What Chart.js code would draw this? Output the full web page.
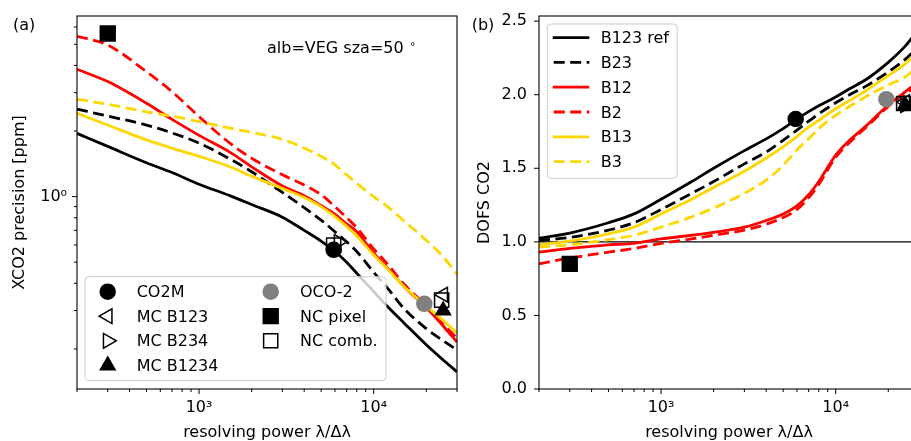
<!DOCTYPE html>
<html>
<head>
<meta charset="utf-8">
<script src="https://cdn.jsdelivr.net/npm/chart.js@4"></script>
<style>
html, body { margin: 0; padding: 0; background: #fff; overflow: hidden; }
#wrap { position: relative; width: 911px; height: 441px; overflow: hidden; }
#left { position: absolute; left: 0; top: 0; }
#right { position: absolute; left: 460px; top: 0; }
</style>
</head>
<body>
<div id="wrap">
  <canvas id="left" width="460" height="441"></canvas>
  <canvas id="right" width="462" height="441"></canvas>
</div>
<script>
const FONT = "'DejaVu Sans', sans-serif";
const BLACK = '#000000';
const RED = '#ff0000';
const GOLD = '#ffd700';
const GREY = '#808080';
const DASH = [11, 5.5];

// resolving power grid shared by all curves
const resPower = [200, 300, 500, 700, 1000, 1500, 2000, 3000, 4000, 5000, 6000, 7000, 8000, 10000, 12000, 15000, 20000, 25000, 30000];

// (a) XCO2 precision [ppm]
const precB123ref = [1.95, 1.70, 1.43, 1.29, 1.14, 1.01, 0.92, 0.805, 0.70, 0.625, 0.56, 0.50, 0.445, 0.367, 0.313, 0.262, 0.209, 0.178, 0.157];
const precB23     = [2.52, 2.34, 2.13, 1.96, 1.76, 1.49, 1.30, 1.045, 0.89, 0.78, 0.69, 0.62, 0.56, 0.45, 0.38, 0.305, 0.248, 0.218, 0.198];
const precB12     = [3.84, 3.37, 2.68, 2.26, 1.91, 1.60, 1.37, 1.12, 1.01, 0.91, 0.83, 0.75, 0.69, 0.55, 0.47, 0.385, 0.31, 0.255, 0.215];
const precB2      = [5.44, 4.96, 3.74, 3.03, 2.33, 1.76, 1.50, 1.26, 1.13, 1.02, 0.90, 0.80, 0.72, 0.575, 0.49, 0.395, 0.315, 0.26, 0.224];
const precB13     = [2.41, 2.13, 1.82, 1.67, 1.53, 1.37, 1.24, 1.09, 0.99, 0.90, 0.81, 0.73, 0.66, 0.54, 0.465, 0.385, 0.315, 0.27, 0.237];
const precB3      = [2.80, 2.65, 2.45, 2.34, 2.21, 2.06, 1.97, 1.83, 1.67, 1.53, 1.40, 1.26, 1.15, 1.00, 0.90, 0.77, 0.63, 0.53, 0.44];

// (b) DOFS CO2
const dofsB123ref = [1.025, 1.06, 1.13, 1.19, 1.29, 1.41, 1.50, 1.62, 1.70, 1.77, 1.835, 1.885, 1.925, 1.985, 2.04, 2.105, 2.22, 2.33, 2.45];
const dofsB23     = [1.01, 1.03, 1.08, 1.13, 1.22, 1.33, 1.41, 1.53, 1.61, 1.69, 1.76, 1.82, 1.87, 1.945, 2.0, 2.06, 2.155, 2.24, 2.33];
const dofsB12     = [0.93, 0.955, 0.98, 0.99, 1.02, 1.045, 1.065, 1.10, 1.145, 1.19, 1.245, 1.32, 1.41, 1.59, 1.69, 1.79, 1.93, 2.02, 2.09];
const dofsB2      = [0.85, 0.89, 0.93, 0.955, 0.99, 1.02, 1.045, 1.08, 1.12, 1.165, 1.22, 1.30, 1.39, 1.575, 1.675, 1.78, 1.92, 2.005, 2.07];
const dofsB13     = [0.98, 1.005, 1.055, 1.10, 1.19, 1.29, 1.37, 1.48, 1.57, 1.645, 1.715, 1.78, 1.825, 1.905, 1.96, 2.03, 2.13, 2.21, 2.30];
const dofsB3      = [0.965, 0.98, 1.015, 1.045, 1.10, 1.17, 1.23, 1.33, 1.42, 1.52, 1.625, 1.70, 1.77, 1.86, 1.92, 1.99, 2.066, 2.12, 2.20];
const refLineX = [200, 30000];
const refLineY = [1, 1];

// instrument markers
const co2mX = [5900],  co2mPrec = [0.57],  co2mDofs = [1.835];
const oco2X = [19500], oco2Prec = [0.322], oco2Dofs = [1.97];
const ncPixelX = [300], ncPixelPrec = [5.6], ncPixelDofs = [0.85];
const ncCombPrecX = [5900, 24500], ncCombPrec = [0.60, 0.335];
const ncCombDofsX = [24500], ncCombDofs = [1.94];
const mcB123X = [25000], mcB123Prec = [0.355], mcB123Dofs = [1.95];
const mcB234PrecX = [6300], mcB234Prec = [0.62];
const mcB234DofsX = [25000], mcB234Dofs = [1.93];
const mcB1234X = [25000], mcB1234Prec = [0.30], mcB1234Dofs = [1.93];

// tick positions
const xMajor = [1000, 10000];
const xMinor = [200, 300, 400, 500, 600, 700, 800, 900, 2000, 3000, 4000, 5000, 6000, 7000, 8000, 9000, 20000, 30000];
const precMajor = [1];
const precMinor = [0.2, 0.3, 0.4, 0.5, 0.6, 0.7, 0.8, 0.9, 2, 3, 4, 5, 6];
const dofsTicks = [0, 0.5, 1, 1.5, 2, 2.5];

function pts(xs, ys) {
    return xs.map(function(x, i) { return { x: x, y: ys[i] }; });
}

function curve(label, ys, color, dashed) {
    return {
        label: label,
        data: pts(resPower, ys),
        borderColor: color,
        borderWidth: 2.8,
        borderDash: dashed ? DASH : [],
        pointRadius: 0,
        fill: false,
        cubicInterpolationMode: 'monotone',
        clip: 0
    };
}

function markers(label, xs, ys, style, radius, rotation, filled, color) {
    return {
        label: label,
        data: pts(xs, ys),
        showLine: false,
        pointStyle: style,
        pointRadius: radius,
        pointRotation: rotation,
        pointBackgroundColor: filled ? color : 'rgba(0,0,0,0)',
        pointBorderColor: color,
        pointBorderWidth: 1.5
    };
}

function stack(list) {
    list.forEach(function(d, i) { d.order = -i; });
    return list;
}

function drawMarker(ctx, ds, x, y) {
    var r = ds.pointRadius;
    var a = (ds.pointRotation || 0) * Math.PI / 180;
    ctx.save();
    ctx.beginPath();
    if (ds.pointStyle === 'circle') {
        ctx.arc(x, y, r, 0, 2 * Math.PI);
    } else if (ds.pointStyle === 'rect') {
        var h = r * Math.SQRT1_2;
        ctx.rect(x - h, y - h, 2 * h, 2 * h);
    } else {
        for (var k = 0; k < 3; k++) {
            var px = x + Math.sin(a) * r, py = y - Math.cos(a) * r;
            if (k) ctx.lineTo(px, py); else ctx.moveTo(px, py);
            a += 2 * Math.PI / 3;
        }
        ctx.closePath();
    }
    ctx.fillStyle = ds.pointBackgroundColor;
    ctx.fill();
    ctx.lineWidth = ds.pointBorderWidth;
    ctx.strokeStyle = ds.pointBorderColor;
    ctx.stroke();
    ctx.restore();
}

function legendBox(ctx, x0, y0, x1, y1) {
    var r = 4;
    ctx.save();
    ctx.beginPath();
    ctx.moveTo(x0 + r, y0);
    ctx.lineTo(x1 - r, y0);
    ctx.quadraticCurveTo(x1, y0, x1, y0 + r);
    ctx.lineTo(x1, y1 - r);
    ctx.quadraticCurveTo(x1, y1, x1 - r, y1);
    ctx.lineTo(x0 + r, y1);
    ctx.quadraticCurveTo(x0, y1, x0, y1 - r);
    ctx.lineTo(x0, y0 + r);
    ctx.quadraticCurveTo(x0, y0, x0 + r, y0);
    ctx.closePath();
    ctx.fillStyle = 'rgba(255,255,255,0.8)';
    ctx.fill();
    ctx.lineWidth = 1;
    ctx.strokeStyle = '#cccccc';
    ctx.stroke();
    ctx.restore();
}

// frame + major/minor tick marks
function frameTicks(xMaj, xMin, yMaj, yMin) {
    return {
        id: 'frameTicks',
        afterDatasetsDraw: function(chart) {
            var ctx = chart.ctx, a = chart.chartArea;
            var sx = chart.scales.x, sy = chart.scales.y;
            ctx.save();
            ctx.strokeStyle = BLACK;
            ctx.lineWidth = 1.1;
            ctx.strokeRect(a.left, a.top, a.right - a.left, a.bottom - a.top);
            function tx(vals, len) {
                vals.forEach(function(v) {
                    var p = sx.getPixelForValue(v);
                    ctx.beginPath(); ctx.moveTo(p, a.bottom); ctx.lineTo(p, a.bottom + len); ctx.stroke();
                });
            }
            function ty(vals, len) {
                vals.forEach(function(v) {
                    var p = sy.getPixelForValue(v);
                    ctx.beginPath(); ctx.moveTo(a.left, p); ctx.lineTo(a.left - len, p); ctx.stroke();
                });
            }
            ctx.lineWidth = 1;
            tx(xMaj, 5); tx(xMin, 3);
            ty(yMaj, 5); ty(yMin, 3);
            ctx.restore();
        }
    };
}

function noPad(s) {
    s.paddingLeft = 0; s.paddingRight = 0; s.paddingTop = 0; s.paddingBottom = 0;
}

function xAxis() {
    return {
        type: 'logarithmic',
        min: 200,
        max: 30000,
        afterBuildTicks: function(s) {
            s.ticks = xMajor.concat(xMinor).sort(function(a, b) { return a - b; })
                .map(function(v) { return { value: v }; });
        },
        afterFit: function(s) { s.height = 52; noPad(s); },
        grid: { drawOnChartArea: false, drawTicks: true, tickLength: 5, tickColor: 'rgba(0,0,0,0)' },
        border: { display: false },
        ticks: {
            autoSkip: false, maxRotation: 0, minRotation: 0, padding: 4,
            color: BLACK, font: { family: FONT, size: 16 },
            callback: function(v) { return v === 1000 ? '10³' : (v === 10000 ? '10⁴' : ''); }
        },
        title: {
            display: true, text: 'resolving power λ/Δλ', color: BLACK,
            font: { family: FONT, size: 16 }, padding: { top: 0, bottom: -1 }
        }
    };
}

// ---------- (a) precision ----------
var leftSets = stack([
    curve('B123 ref', precB123ref, BLACK, false),
    curve('B23', precB23, BLACK, true),
    curve('B12', precB12, RED, false),
    curve('B2', precB2, RED, true),
    curve('B13', precB13, GOLD, false),
    curve('B3', precB3, GOLD, true),
    markers('CO2M', co2mX, co2mPrec, 'circle', 7.5, 0, true, BLACK),
    markers('MC B123', mcB123X, mcB123Prec, 'triangle', 8.5, -90, false, BLACK),
    markers('MC B234', mcB234PrecX, mcB234Prec, 'triangle', 8.5, 90, false, BLACK),
    markers('MC B1234', mcB1234X, mcB1234Prec, 'triangle', 8.5, 0, true, BLACK),
    markers('OCO-2', oco2X, oco2Prec, 'circle', 7.5, 0, true, GREY),
    markers('NC pixel', ncPixelX, ncPixelPrec, 'rect', 10.5, 0, true, BLACK),
    markers('NC comb.', ncCombPrecX, ncCombPrec, 'rect', 10, 0, false, BLACK)
]);

var leftText = {
    id: 'leftText',
    afterDraw: function(chart) {
        var ctx = chart.ctx;
        ctx.save();
        ctx.fillStyle = BLACK;
        ctx.textBaseline = 'alphabetic';
        ctx.font = '16px ' + FONT;
        ctx.fillText('(a)', 13, 29.5);
        ctx.fillText('alb=VEG sza=50', 267, 53.3);
        ctx.font = '11px ' + FONT;
        ctx.fillText('°', 410, 49.5);
        // legend
        legendBox(ctx, 85, 276.7, 386, 380.7);
        var cols = [[6, 7, 8, 9], [10, 11, 12]];
        var colX = [107.7, 270.7], textX = [136.7, 300];
        var rowY = [291.7, 316.2, 340.8, 365.4];
        ctx.font = '16px ' + FONT;
        cols.forEach(function(col, c) {
            col.forEach(function(idx, r) {
                var ds = chart.data.datasets[idx];
                drawMarker(ctx, ds, colX[c], rowY[r]);
                ctx.fillStyle = BLACK;
                ctx.fillText(ds.label, textX[c], rowY[r] + 5.6);
            });
        });
        ctx.restore();
    }
};

new Chart(document.getElementById('left'), {
    type: 'line',
    data: { datasets: leftSets },
    options: {
        responsive: false,
        animation: false,
        devicePixelRatio: 1,
        events: [],
        layout: { autoPadding: false, padding: { top: 16, right: 3, left: 0, bottom: 0 } },
        plugins: { legend: { display: false }, tooltip: { enabled: false } },
        scales: {
            x: xAxis(),
            y: {
                type: 'logarithmic',
                min: 0.131,
                max: 6.74,
                afterBuildTicks: function(s) {
                    s.ticks = precMinor.concat(precMajor).sort(function(a, b) { return a - b; })
                        .map(function(v) { return { value: v }; });
                },
                afterFit: function(s) { s.width = 77; noPad(s); },
                grid: { drawOnChartArea: false, drawTicks: true, tickLength: 5, tickColor: 'rgba(0,0,0,0)' },
                border: { display: false },
                ticks: {
                    autoSkip: false, padding: 5, color: BLACK, font: { family: FONT, size: 16 },
                    callback: function(v) { return v === 1 ? '10⁰' : ''; }
                },
                title: {
                    display: true, text: 'XCO2 precision [ppm]', color: BLACK,
                    font: { family: FONT, size: 16 }, padding: { top: 10.4, bottom: 0 }
                }
            }
        }
    },
    plugins: [frameTicks(xMajor, xMinor, precMajor, precMinor), leftText]
});

// ---------- (b) DOFS ----------
var refLine = {
    label: 'ref', data: pts(refLineX, refLineY), borderColor: BLACK, borderWidth: 1.2,
    pointRadius: 0, fill: false, clip: 0
};
var rightSets = stack([
    refLine,
    curve('B123 ref', dofsB123ref, BLACK, false),
    curve('B23', dofsB23, BLACK, true),
    curve('B12', dofsB12, RED, false),
    curve('B2', dofsB2, RED, true),
    curve('B13', dofsB13, GOLD, false),
    curve('B3', dofsB3, GOLD, true),
    markers('CO2M', co2mX, co2mDofs, 'circle', 7.5, 0, true, BLACK),
    markers('MC B123', mcB123X, mcB123Dofs, 'triangle', 8.5, -90, false, BLACK),
    markers('MC B234', mcB234DofsX, mcB234Dofs, 'triangle', 8.5, 90, false, BLACK),
    markers('MC B1234', mcB1234X, mcB1234Dofs, 'triangle', 8.5, 0, true, BLACK),
    markers('OCO-2', oco2X, oco2Dofs, 'circle', 7.5, 0, true, GREY),
    markers('NC pixel', ncPixelX, ncPixelDofs, 'rect', 10.5, 0, true, BLACK),
    markers('NC comb.', ncCombDofsX, ncCombDofs, 'rect', 10, 0, false, BLACK)
]);

var rightText = {
    id: 'rightText',
    afterDraw: function(chart) {
        var ctx = chart.ctx;
        ctx.save();
        ctx.textBaseline = 'alphabetic';
        ctx.font = '16px ' + FONT;
        ctx.fillStyle = BLACK;
        ctx.fillText('(b)', 11.7, 29.5);
        legendBox(ctx, 87.3, 24, 217.3, 178.3);
        var rowY = [37.7, 62.4, 87.2, 112, 136.8, 161.6];
        for (var i = 0; i < 6; i++) {
            var ds = chart.data.datasets[i + 1];
            ctx.save();
            ctx.beginPath();
            ctx.strokeStyle = ds.borderColor;
            ctx.lineWidth = ds.borderWidth;
            ctx.setLineDash(ds.borderDash);
            ctx.lineDashOffset = ds.borderDash.length ? 15.5 : 0;
            ctx.moveTo(92.7, rowY[i]);
            ctx.lineTo(129.3, rowY[i]);
            ctx.stroke();
            ctx.restore();
            ctx.fillStyle = BLACK;
            ctx.fillText(ds.label, 140.7, rowY[i] + 5.6);
        }
        ctx.restore();
    }
};

new Chart(document.getElementById('right'), {
    type: 'line',
    data: { datasets: rightSets },
    options: {
        responsive: false,
        animation: false,
        devicePixelRatio: 1,
        events: [],
        layout: { autoPadding: false, padding: { top: 16, right: 3, left: 0, bottom: 0 } },
        plugins: { legend: { display: false }, tooltip: { enabled: false } },
        scales: {
            x: xAxis(),
            y: {
                type: 'linear',
                min: 0,
                max: 2.535,
                afterBuildTicks: function(s) {
                    s.ticks = dofsTicks.map(function(v) { return { value: v }; });
                },
                afterFit: function(s) { s.width = 79; noPad(s); },
                grid: { drawOnChartArea: false, drawTicks: true, tickLength: 5, tickColor: 'rgba(0,0,0,0)' },
                border: { display: false },
                ticks: {
                    autoSkip: false, padding: 7, color: BLACK, font: { family: FONT, size: 16 },
                    callback: function(v) { return v.toFixed(1); }
                },
                title: {
                    display: true, text: 'DOFS CO2', color: BLACK,
                    font: { family: FONT, size: 16 }, padding: { top: 15.4, bottom: 0 }
                }
            }
        }
    },
    plugins: [frameTicks(xMajor, xMinor, dofsTicks, []), rightText]
});
</script>
</body>
</html>
